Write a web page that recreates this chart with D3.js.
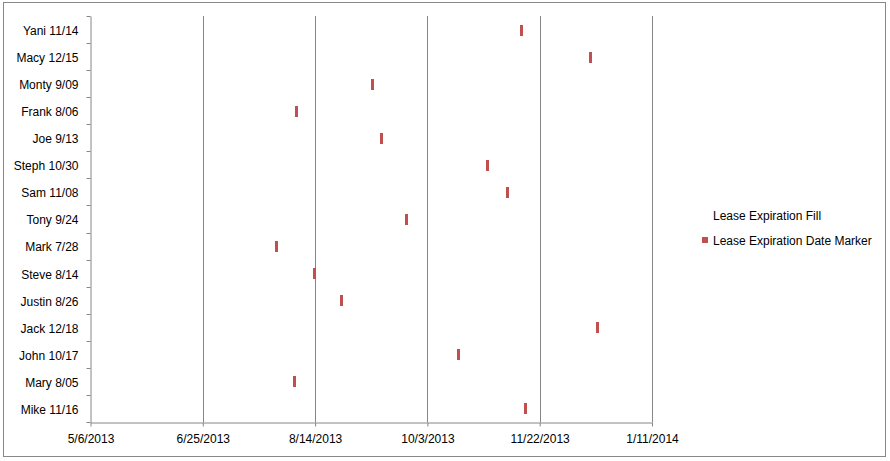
<!DOCTYPE html>
<html><head><meta charset="utf-8">
<script src="https://cdn.jsdelivr.net/npm/d3@7/dist/d3.min.js"></script>
<style>body{margin:0;background:#fff}svg{display:block}text{font-family:"Liberation Sans",Arial,sans-serif;fill:#000}</style>
</head><body><svg id="c" width="890" height="461"></svg>
<script>
const names = ["Yani","Macy","Monty","Frank","Joe","Steph","Sam","Tony","Mark","Steve","Justin","Jack","John","Mary","Mike"];
const expirations = ["2013-11-14","2013-12-15","2013-09-09","2013-08-06","2013-09-13","2013-10-30","2013-11-08","2013-09-24","2013-07-28","2013-08-14","2013-08-26","2013-12-18","2013-10-17","2013-08-05","2013-11-16"];
const tickDates = ["2013-05-06","2013-06-25","2013-08-14","2013-10-03","2013-11-22","2014-01-11"];
const legendLabels = ["Lease Expiration Fill","Lease Expiration Date Marker"];

const parse = d3.utcParse("%Y-%m-%d");
const fmtShort = d => (d.getUTCMonth()+1) + "/" + String(d.getUTCDate()).padStart(2,"0");
const fmtTick = d => (d.getUTCMonth()+1) + "/" + d.getUTCDate() + "/" + d.getUTCFullYear();
const data = names.map((n,i)=>({name:n, date:parse(expirations[i])}));
data.forEach(d=>d.label = d.name + " " + fmtShort(d.date));
const ticks = tickDates.map(parse);

const svg = d3.select("#c");
const L=90.5, R=652, T=16, B=422;
const FS = "12px";
svg.append("rect").attr("x",3.5).attr("y",2.5).attr("width",882).attr("height",454).attr("fill","#fff").attr("stroke","#888").attr("stroke-width",1);

const x = d3.scaleUtc().domain([ticks[0], ticks[ticks.length-1]]).range([L, R]);
const y = d3.scaleBand().domain(data.map(d=>d.label)).range([T, B]);
const grid = "#868686";

// gridlines
svg.append("g").selectAll("line").data(ticks.slice(1)).join("line")
  .attr("x1",d=>Math.round(x(d))+0.5).attr("x2",d=>Math.round(x(d))+0.5)
  .attr("y1",T).attr("y2",B).attr("stroke",grid).attr("stroke-width",1);

// x axis
const xa = svg.append("g").attr("transform",`translate(0,${B+0.5})`)
  .call(d3.axisBottom(x).tickValues(ticks).tickFormat(fmtTick).tickSizeInner(4).tickSizeOuter(0).tickPadding(8));
xa.select(".domain").attr("stroke",grid);
xa.selectAll(".tick line").attr("stroke",grid);
xa.selectAll("text").attr("font-size",FS).attr("fill","#000");

// y axis
const ya = svg.append("g").attr("transform",`translate(${L},0)`)
  .call(d3.axisLeft(y).tickSize(0).tickPadding(12));
ya.select(".domain").attr("stroke",grid);
ya.selectAll(".tick line").remove();
ya.selectAll("text").attr("font-size",FS).attr("fill","#000").attr("dy","0.45em");
// category boundary ticks
const bounds = data.map(d=>y(d.label)).concat([B]);
ya.selectAll(".bt").data(bounds).join("line").attr("class","bt")
  .attr("x1",-4).attr("x2",0).attr("y1",d=>Math.round(d)+0.5).attr("y2",d=>Math.round(d)+0.5).attr("stroke",grid);

// markers
svg.append("g").selectAll("rect").data(data).join("rect")
  .attr("x",d=>Math.round(x(d.date))-2).attr("y",d=>Math.round(y(d.label)+y.bandwidth()/2-5))
  .attr("width",3).attr("height",11).attr("fill","#C0504D");

// legend
const lg = svg.append("g");
lg.append("text").attr("x",713).attr("y",216).attr("dy","0.35em").attr("font-size",FS).text(legendLabels[0]);
lg.append("rect").attr("x",702).attr("y",237).attr("width",6).attr("height",6).attr("fill","#C0504D");
lg.append("text").attr("x",713).attr("y",241).attr("dy","0.35em").attr("font-size",FS).text(legendLabels[1]);
</script></body></html>
